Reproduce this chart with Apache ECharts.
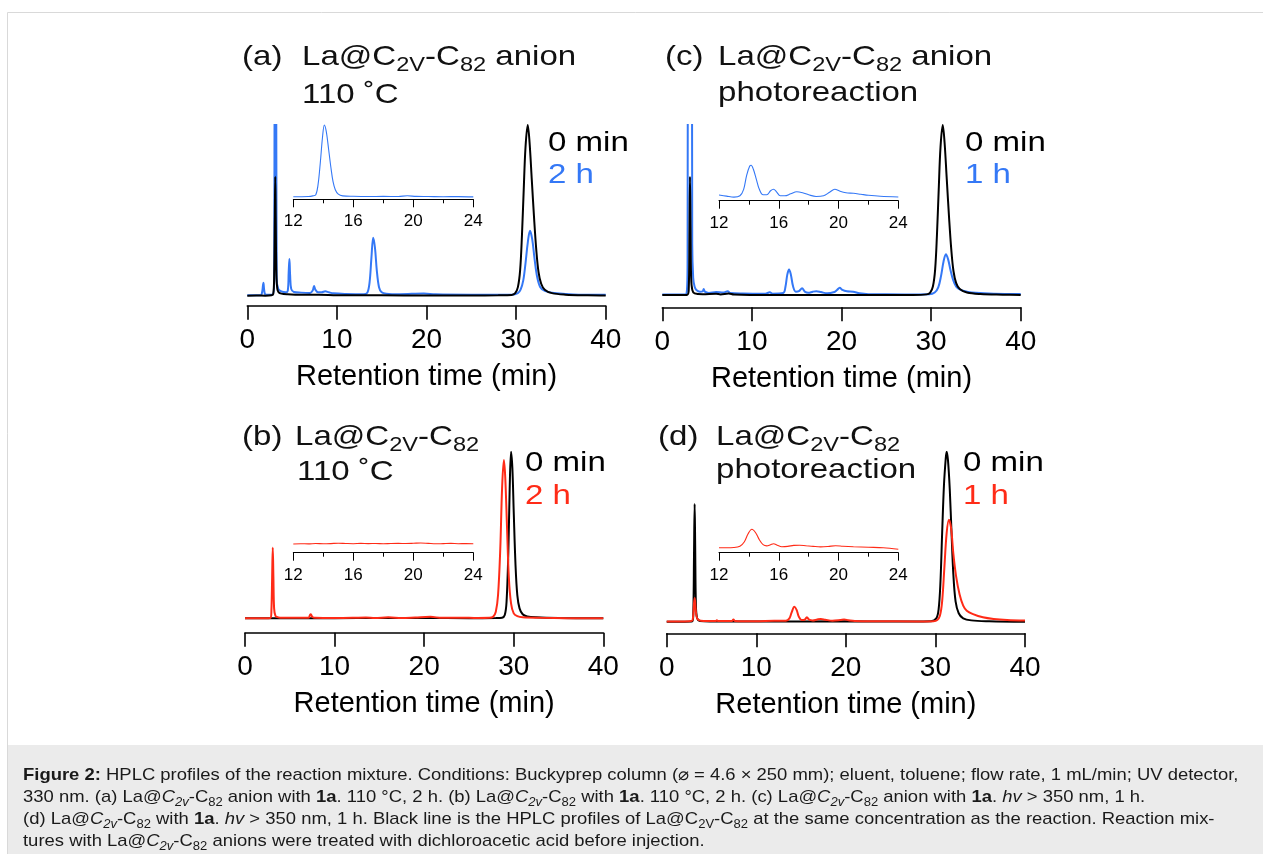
<!DOCTYPE html>
<html><head><meta charset="utf-8">
<script src="https://cdn.jsdelivr.net/npm/echarts@6/dist/echarts.min.js"></script>
<style>html,body{margin:0;padding:0;background:#fff;}#chart{width:1263px;height:854px;}</style>
</head><body><div id="chart"></div>
<script>
// ---------------- DATA ----------------
const mainTicks = [0, 10, 20, 30, 40];
const insetTicks = [12, 16, 20, 24];
const xAxisName = 'Retention time (min)';

// (a) La@C2v-C82 anion, 110 °C  (relative absorbance, 0 min main peak = 100)
const a_black = [[0,0],[1,0.1],[2,0],[2.7,0.2],[2.9,1],[3.0,12],[3.07,45],[3.12,69.7],[3.17,45],[3.25,12],[3.35,4],[3.5,2],[3.8,1.2],[4.5,0.8],[6,0.5],[8,0.6],[10,0.3],[15,0.2],[20,0.1],[25,0.1],[28,0.2],[29.5,0.4],[29.9,1.5],[30.2,5],[30.45,15],[30.65,35],[30.85,62],[31.05,87],[31.3,100],[31.5,90],[31.75,68],[32.0,46],[32.25,27],[32.5,14],[32.8,7],[33.2,3.5],[34,1.5],[35.5,0.6],[38,0.2],[40,0.1]];
const a_2h = [[0,0.3],[1.5,0.3],[1.65,2],[1.75,6],[1.8,7.6],[1.87,4],[1.97,1],[2.2,0.5],[2.8,0.6],[3.0,8],[3.07,200],[3.2,200],[3.28,10],[3.45,4],[3.8,2.5],[4.3,2],[4.52,3],[4.62,14],[4.7,21.5],[4.78,12],[4.9,4],[5.2,2.2],[6,1.8],[7.0,1.6],[7.3,3],[7.45,5.7],[7.6,3.5],[7.9,2],[8.3,2],[8.7,2.6],[9.1,2],[9.6,1.4],[11,1],[13,0.8],[13.4,1.8],[13.65,8],[13.85,22],[14.05,34],[14.25,28],[14.45,15],[14.7,5],[15,2],[15.5,1.2],[17,0.9],[19.7,1.3],[21,0.8],[25,0.6],[29.5,0.6],[30.2,1.5],[30.5,3.5],[30.8,9],[31.05,19],[31.3,31],[31.55,38],[31.8,33],[32.05,22],[32.35,11],[32.7,5],[33.2,2.8],[34,1.7],[35.5,1],[37,0.6],[40,0.5]];
const a_inset = [[12,0],[13,0.2],[13.3,0.8],[13.5,2],[13.65,12],[13.8,34],[13.95,60],[14.07,71.7],[14.2,65],[14.35,48],[14.5,30],[14.65,15],[14.8,7],[15.0,2.5],[15.3,0.8],[16,0.4],[17,0.2],[18,0.3],[19,0.2],[19.6,0.9],[20.2,0.3],[21,0.2],[22,0],[23,0.1],[24,-0.2]];

// (c) La@C2v-C82 anion, photoreaction
const c_black = [[0,0],[2,0],[2.8,0.2],[2.95,3],[3.03,35],[3.09,69.6],[3.15,40],[3.22,10],[3.35,3],[3.6,1],[4.5,0.5],[6,0.8],[6.5,0.4],[7.4,0.9],[8,0.3],[12,0],[20,0.1],[28,0.1],[29.5,0.4],[29.9,1.5],[30.2,5],[30.45,15],[30.65,35],[30.85,62],[31.05,87],[31.3,100],[31.5,90],[31.75,68],[32.0,46],[32.25,27],[32.5,14],[32.8,7],[33.2,3.5],[34,1.5],[35.5,0.6],[38,0.2],[40,0]];
const c_1h = [[0,0.3],[2,0.3],[2.7,0.8],[2.82,20],[2.88,300],[3.28,300],[3.34,30],[3.45,10],[3.6,5],[3.8,3],[4.2,2],[4.5,2.2],[4.62,3.5],[4.75,2],[5.2,1.2],[6,1.8],[6.8,1.5],[7.3,2.2],[7.6,1.2],[9,0.9],[11.5,0.8],[12,1.6],[12.3,0.8],[13.5,1.2],[13.75,5],[13.95,12],[14.15,15],[14.35,12],[14.6,5],[14.9,2],[15.25,2.3],[15.6,4],[15.9,2],[16.3,1.3],[16.8,2],[17.2,2.3],[17.7,1.8],[18.4,1],[19.2,1.8],[19.5,3],[19.8,4.3],[20.1,3],[20.6,2.2],[21.3,2],[22,1],[23,0.5],[27,0.4],[29.8,0.5],[30.4,1.5],[30.8,4.5],[31.1,11],[31.4,20],[31.65,24],[31.9,21],[32.15,15],[32.45,9],[32.8,5],[33.3,3],[34,2],[35,1.3],[37,0.8],[40,0.6]];
const c_inset = [[12,2.3],[12.5,1.2],[13,0.2],[13.4,1.5],[13.65,8],[13.85,22],[14.05,31],[14.15,32],[14.3,28],[14.5,18],[14.7,8],[14.95,2.5],[15.2,2.5],[15.45,6.5],[15.65,8],[15.85,5.5],[16.1,1.5],[16.4,1.5],[16.8,3.5],[17.2,5.5],[17.6,4.5],[18,2.5],[18.5,0.8],[19,1.5],[19.4,5],[19.75,8],[20.1,6],[20.5,4.5],[21,4],[21.5,3],[22,2],[22.8,1],[24,0.3]];

// (b) La@C2v-C82, 110 °C
const b_black = [[0,0],[3,0],[5,0],[10,0.1],[15,0.2],[20,0.2],[25,0.1],[28,0.2],[28.7,0.4],[29.0,2],[29.2,10],[29.4,40],[29.55,78],[29.7,100],[29.85,90],[30.0,64],[30.2,32],[30.4,14],[30.65,6],[31.0,2.5],[31.5,1.2],[32.5,0.6],[35,0.2],[40,0]];
const b_2h = [[0,0],[2,0],[2.85,0.3],[2.95,5],[3.03,25],[3.1,42.4],[3.17,25],[3.25,6],[3.4,1.5],[3.7,0.6],[4.2,0.3],[7.1,0.4],[7.25,2],[7.35,2.4],[7.5,1],[7.8,0.3],[10,0.2],[12,0.3],[13.5,0.5],[14.5,0.2],[16,0.6],[17.5,0.2],[19,0.5],[20.7,0.9],[22,0.3],[24,0.4],[26,0.2],[27.3,0.3],[27.7,1],[28.0,4],[28.25,14],[28.5,42],[28.7,78],[28.9,95],[29.05,85],[29.25,55],[29.45,25],[29.7,9],[30,3],[30.4,1.3],[31,0.6],[33,0.3],[36,0.1],[40,0]];
const b_inset = [[12,0],[12.5,0.3],[13,0.1],[13.5,0.5],[14,0.2],[14.5,0.4],[15,0.8],[15.5,0.5],[16,0.3],[16.5,0.6],[17,0.4],[17.5,0.5],[18,0.3],[18.5,0.5],[19,0.6],[19.5,0.5],[20,0.7],[20.5,1.0],[21,0.6],[21.5,0.2],[22,0.4],[22.5,0.6],[23,0.3],[23.5,0.4],[24,0.2]];

// (d) La@C2v-C82, photoreaction
const d_black = [[0,0],[2,0],[2.85,0.2],[2.97,5],[3.05,40],[3.12,69.2],[3.18,45],[3.26,10],[3.4,2],[3.7,0.5],[5,0.2],[10,0.1],[20,0.3],[25,0.1],[29.5,0.3],[30.1,2],[30.35,7],[30.55,22],[30.75,52],[30.95,80],[31.15,96],[31.25,100],[31.4,95],[31.6,78],[31.8,52],[32.0,28],[32.25,12],[32.6,5],[33.1,2],[34,0.8],[36,0.3],[40,0]];
const d_1h = [[0,0.2],[2,0.2],[2.8,0.5],[2.95,3],[3.05,11],[3.12,14],[3.2,10],[3.3,4],[3.45,1.5],[3.8,0.6],[5.5,0.4],[5.6,0.9],[5.7,0.4],[7.3,0.5],[7.45,1.3],[7.6,0.5],[10,0.3],[12,0.6],[13.3,0.6],[13.7,2],[13.95,5.5],[14.25,8.8],[14.5,7],[14.75,3],[15.05,1],[15.4,1.2],[15.65,2.6],[15.9,1.2],[16.3,0.8],[16.8,1.3],[17.2,1.6],[17.7,1.2],[18.5,0.6],[19.4,1],[19.8,1.3],[20.3,0.9],[21,0.5],[23,0.3],[28,0.2],[29.8,0.3],[30.2,1],[30.5,3.5],[30.75,12],[31.0,32],[31.25,52],[31.5,60],[31.75,55],[32.0,40],[32.3,27],[32.7,16],[33.1,9.5],[33.5,6.5],[34.2,4.5],[35.3,2.6],[36.5,1.6],[38,1],[40,0.7]];
const d_inset = [[12,0],[12.5,0],[13,0.2],[13.4,1.5],[13.7,6],[13.95,14],[14.2,18.4],[14.45,15],[14.7,8],[14.95,3],[15.2,1.8],[15.45,3],[15.65,4],[15.9,2.5],[16.2,1],[16.6,1.3],[17.0,2.3],[17.4,2.5],[17.8,2],[18.3,1.3],[18.8,0.8],[19.3,1.2],[19.8,2],[20.3,1.5],[21,1],[22,0.5],[23,0],[24,-1.5]];

const legendA = ['0 min', '2 h'];
const legendB = ['0 min', '2 h'];
const legendC = ['0 min', '1 h'];
const legendD = ['0 min', '1 h'];

// ---------------- STYLE ----------------
const FF = '"Liberation Sans", Arial, Helvetica, sans-serif';
const BLUE = '#3478f6', RED = '#ff2b17', BLACK = '#000';
const TSX = 1.18;   // horizontal stretch of panel texts
const CSX = 1.085;  // horizontal stretch of caption

const grids = [
  {left:247.3, top:125, width:358.4, height:180.7},   // 0 a
  {left:293.3, top:120, width:180,   height:79.3},    // 1 a inset
  {left:662.3, top:125, width:358.4, height:182.3},   // 2 c
  {left:719,   top:120, width:179.3, height:80.7},    // 3 c inset
  {left:245,   top:451.7, width:358.3, height:181},   // 4 b
  {left:293.3, top:480, width:180,   height:72.7},    // 5 b inset
  {left:666.7, top:451.7, width:358.3, height:181.6}, // 6 d
  {left:719,   top:480, width:179.3, height:72.7}     // 7 d inset
].map(g => Object.assign({containLabel:false, outerBoundsMode:'none'}, g));

const yRanges = [[-5.86,100],[-2.6,76.7],[-7.2,100],[-3.4,77.3],[-8.6,100],[-8.7,64],[-6.8,100],[-5,67.7]];

function mainX(i){
  return {gridIndex:i, type:'value', min:mainTicks[0], max:mainTicks[mainTicks.length-1], interval:mainTicks[1]-mainTicks[0],
    axisLine:{show:true, onZero:false, lineStyle:{color:'#000', width:1.6}},
    axisTick:{show:true, inside:false, length:14, lineStyle:{color:'#000', width:1.6}},
    axisLabel:{show:true, fontSize:28, color:'#000', fontFamily:FF, margin:21},
    splitLine:{show:false},
    name:xAxisName, nameLocation:'middle', nameGap:57,
    nameTextStyle:{fontSize:29, color:'#000', fontFamily:FF}};
}
function insetX(i){
  return {gridIndex:i, type:'value', min:insetTicks[0], max:insetTicks[insetTicks.length-1], interval:insetTicks[1]-insetTicks[0],
    axisLine:{show:true, onZero:false, lineStyle:{color:'#000', width:1}},
    axisTick:{show:true, inside:false, length:8, lineStyle:{color:'#000', width:1}},
    minorTick:{show:true, splitNumber:2, length:4, lineStyle:{color:'#000', width:1}},
    axisLabel:{show:true, fontSize:17, color:'#000', fontFamily:FF, margin:14},
    splitLine:{show:false}, minorSplitLine:{show:false}};
}
const xAxes = [mainX(0), insetX(1), mainX(2), insetX(3), mainX(4), insetX(5), mainX(6), insetX(7)];
const yAxes = yRanges.map((r,i) => ({gridIndex:i, type:'value', min:r[0], max:r[1], show:false, splitLine:{show:false}}));

function line(data, idx, color, w){
  return {type:'line', data:data, xAxisIndex:idx, yAxisIndex:idx, showSymbol:false, symbol:'none',
    smooth:0.35, clip:true, lineStyle:{color:color, width:w}, itemStyle:{color:color}, silent:true, animation:false};
}
const series = [
  line(a_2h, 0, BLUE, 2), line(a_black, 0, BLACK, 2), line(a_inset, 1, BLUE, 1.1),
  line(c_1h, 2, BLUE, 2), line(c_black, 2, BLACK, 2), line(c_inset, 3, BLUE, 1.1),
  line(b_black, 4, BLACK, 2), line(b_2h, 4, RED, 2), line(b_inset, 5, RED, 1.1),
  line(d_black, 6, BLACK, 2), line(d_1h, 6, RED, 2), line(d_inset, 7, RED, 1.1)
];

// ---------------- TEXT ----------------
function ptRich(color){
  return {
    n:{fontSize:28, fontFamily:FF, fill:color, fontWeight:'normal', lineHeight:34},
    s:{fontSize:20, fontFamily:FF, fill:color, fontWeight:'normal', lineHeight:34, padding:[16,0,0,0]}
  };
}
function txt(x, cy, text, color, sx){
  return {type:'text', x:x, y:cy, scaleX:sx||TSX, silent:true, z:100,
    style:{text:text, rich:ptRich(color||'#111'), fill:color||'#111', fontSize:28, fontFamily:FF,
      align:'left', verticalAlign:'middle', textAlign:'left', textVerticalAlign:'middle'}};
}
const formula = '{n|La@C}{s|2V}{n|-C}{s|82}';
const CC = '#1a1a1a';
const capRich = {
  r:{fontSize:17, fontFamily:FF, fill:CC, fontWeight:'normal', lineHeight:22},
  b:{fontSize:17, fontFamily:FF, fill:CC, fontWeight:'bold', lineHeight:22},
  i:{fontSize:17, fontFamily:FF, fill:CC, fontWeight:'normal', fontStyle:'italic', lineHeight:22},
  s:{fontSize:12, fontFamily:FF, fill:CC, fontWeight:'normal', lineHeight:22, padding:[10,0,0,0]},
  is:{fontSize:12, fontFamily:FF, fill:CC, fontWeight:'normal', fontStyle:'italic', lineHeight:22, padding:[10,0,0,0]}
};
const capF = '{r|La@}{i|C}{is|2v}{r|-C}{s|82}';
const capLines = [
  '{b|Figure 2:}{r| HPLC profiles of the reaction mixture. Conditions: Buckyprep column (⌀ = 4.6 × 250 mm); eluent, toluene; flow rate, 1 mL/min; UV detector,}',
  '{r|330 nm. (a) }' + capF + '{r| anion with }{b|1a}{r|. 110 °C, 2 h. (b) }' + capF + '{r| with }{b|1a}{r|. 110 °C, 2 h. (c) }' + capF + '{r| anion with }{b|1a}{r|. }{i|hv}{r| > 350 nm, 1 h.}',
  '{r|(d) }' + capF + '{r| with }{b|1a}{r|. }{i|hv}{r| > 350 nm, 1 h. Black line is the HPLC profiles of La@C}{s|2V}{r|-C}{s|82}{r| at the same concentration as the reaction. Reaction mix-}',
  '{r|tures with }' + capF + '{r| anions were treated with dichloroacetic acid before injection.}'
];
const capY = [775.5, 797.5, 819.5, 841.5];

const texts = [
  txt(242, 57, '{n|(a)}'), txt(302, 57, formula + '{n| anion}'), txt(302, 95, '{n|110 ˚C}'),
  txt(665, 57, '{n|(c)}'), txt(718, 57, formula + '{n| anion}'), txt(718, 93, '{n|photoreaction}'),
  txt(242, 437, '{n|(b)}'), txt(295, 437, formula), txt(297, 472, '{n|110 ˚C}'),
  txt(658, 437, '{n|(d)}'), txt(716, 437, formula), txt(716, 470, '{n|photoreaction}'),
  txt(548, 143, '{n|' + legendA[0] + '}', BLACK), txt(548, 175, '{n|' + legendA[1] + '}', BLUE),
  txt(965, 143, '{n|' + legendC[0] + '}', BLACK), txt(965, 175, '{n|' + legendC[1] + '}', BLUE),
  txt(525, 463, '{n|' + legendB[0] + '}', BLACK), txt(525, 496, '{n|' + legendB[1] + '}', RED),
  txt(963, 463, '{n|' + legendD[0] + '}', BLACK), txt(963, 496, '{n|' + legendD[1] + '}', RED)
].concat(capLines.map((t,i) => ({type:'text', x:23, y:capY[i], scaleX:CSX, silent:true, z:100,
  style:{text:t, rich:capRich, fill:CC, fontSize:17, fontFamily:FF, align:'left', verticalAlign:'middle', textAlign:'left', textVerticalAlign:'middle'}})));

const chart = echarts.init(document.getElementById('chart'), null, {renderer:'canvas'});
chart.setOption({
  animation:false,
  backgroundColor:'#fff',
  graphic:[
    {type:'rect', shape:{x:8, y:745, width:1255, height:109}, style:{fill:'#ebebeb'}, z:-10, silent:true},
    {type:'line', shape:{x1:7.5, y1:12.5, x2:7.5, y2:854}, style:{stroke:'#d9d9d9', lineWidth:1}, z:-5, silent:true},
    {type:'line', shape:{x1:7.5, y1:12.5, x2:1263, y2:12.5}, style:{stroke:'#d9d9d9', lineWidth:1}, z:-5, silent:true}
  ].concat(texts),
  grid:grids,
  xAxis:xAxes,
  yAxis:yAxes,
  series:series
});
</script>
</body></html>
